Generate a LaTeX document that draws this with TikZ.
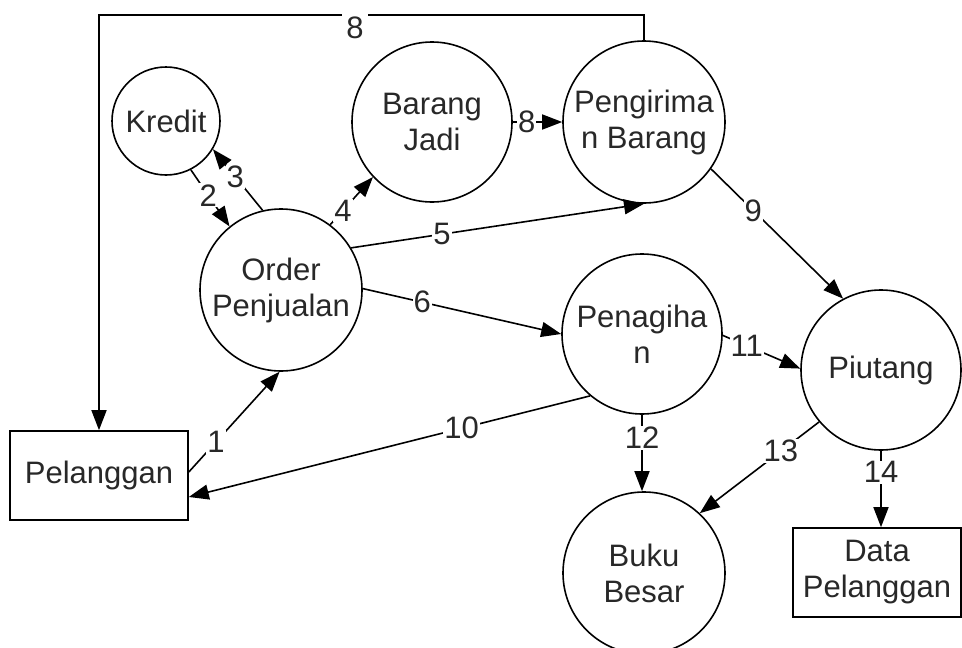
\documentclass[tikz,border=0pt]{standalone}
\usepackage{fontspec}
\setmainfont{Liberation Sans}
\usetikzlibrary{arrows.meta,calc}
\definecolor{txt}{RGB}{40,40,40}
\begin{document}
\begin{tikzpicture}[x=1pt,y=-1pt,
  font=\fontsize{31}{36}\selectfont,
  proc/.style={circle,draw,line width=1.6pt,inner sep=0pt,align=center,text=txt},
  ent/.style={rectangle,draw,line width=1.6pt,inner sep=0pt,align=center,text=txt},
  flow/.style={draw,line width=1.6pt,-{Triangle[length=20pt,width=15pt]}},
  lbl/.style={fill=white,inner sep=1pt,text=txt}]
\useasboundingbox (0,0) rectangle (962,648);
\clip (0,0) rectangle (962,648);
\fill[white] (0,0) rectangle (962,648);

\node[proc,minimum size=108pt] (kredit) at (166,121) {Kredit};
\node[proc,minimum size=162pt] (order) at (281,290) {Order\\Penjualan};
\node[proc,minimum size=160pt] (barang) at (432,122) {Barang\\Jadi};
\node[proc,minimum size=162pt] (kirim) at (644,122) {Pengirima\\n Barang};
\node[proc,minimum size=160pt] (tagih) at (642,334) {Penagiha\\n};
\node[proc,minimum size=160pt] (piutang) at (881,370) {Piutang};
\node[proc,minimum size=162pt] (buku) at (644,573) {Buku\\Besar};
\node[ent,minimum width=178pt,minimum height=89pt] (pel) at (99,475.5) {Pelanggan};
\node[ent,minimum width=168pt,minimum height=89pt] (data) at (877,572.5) {Data\\Pelanggan};

\coordinate (top) at (0,15);

\draw[flow] ($(pel.east)+(0,-3.5)$) -- node[lbl,pos=0.3] (l1) {1} (order.-91);
\draw[flow] (kredit.-63) -- node[lbl,pos=0.45] (l2) {2} (order.129);
\draw[flow] (order.103) -- node[lbl,pos=0.55] (l3) {3} (kredit.-31);
\draw[flow] (order.53) -- node[lbl,pos=0.3] (l4) {4} (barang.-137);
\draw[flow] (order.31) -- node[lbl,pos=0.31] (l5) {5} (kirim.-90);
\draw[flow] (order.1) -- node[lbl,pos=0.3] (l6) {6} (tagih.180);
\draw[flow] (barang.0) -- node[lbl,pos=0.28] (l8a) {8} (kirim.180);
\draw[flow] (kirim.north) -- (kirim.north |- top) -- (top -| pel.north) -- (pel.north);
\node[lbl,inner sep=4pt] (l8b) at (355,28) {8};
\draw[flow] (kirim.-35) -- node[lbl,pos=0.32] (l9) {9} (piutang.118);
\draw[flow] (tagih.-130) -- node[lbl,pos=0.32] (l10) {10} ($(pel.east)+(0,21.5)$);
\draw[flow] (tagih.-1) -- node[lbl,pos=0.31] (l11) {11} (piutang.179);
\draw[flow] (tagih.south) -- node[lbl,pos=0.3] (l12) {12} (tagih.south |- buku.north);
\draw[flow] (piutang.-140) -- node[lbl,pos=0.32] (l13) {13} (buku.47);
\draw[flow] (piutang.south) -- node[lbl,pos=0.28] (l14) {14} (piutang.south |- data.north);
\end{tikzpicture}
\end{document}
